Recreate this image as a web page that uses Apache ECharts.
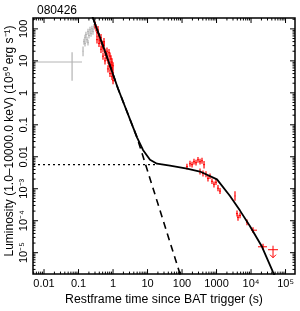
<!DOCTYPE html>
<html><head><meta charset="utf-8">
<script src="https://cdn.jsdelivr.net/npm/echarts@6/dist/echarts.min.js"></script>
<style>html,body{margin:0;padding:0;background:#fff}#c{width:300px;height:311px}</style>
</head><body><div id="c"></div>
<script>
// ---------- text ----------
const titleText = '080426';
const xName = 'Restframe time since BAT trigger (s)';
const yName = 'Luminosity (1.0\u201310000.0 keV) (10\u2075\u2070 erg s\u207B\u00B9)';
// ---------- axes ----------
const xRange = [0.00479, 188000];
const yRange = [2.14e-6, 219];
const xTickValues = [0.01, 0.1, 1, 10, 100, 1000, 1e4, 1e5];
const xTickLabels = ['0.01', '0.1', '1', '10', '100', '1000', '10\u2074', '10\u2075'];
const yTickValues = [1e-5, 1e-4, 1e-3, 0.01, 0.1, 1, 10, 100];
const yTickLabels = ['10\u207B\u2075', '10\u207B\u2074', '10\u207B\u00B3', '0.01', '0.1', '1', '10', '100'];
const minorMultipliers = [2, 3, 4, 5, 6, 7, 8, 9];
const xDecades = [0.001, 0.01, 0.1, 1, 10, 100, 1000, 1e4, 1e5];
const yDecades = [1e-6, 1e-5, 1e-4, 1e-3, 0.01, 0.1, 1, 10, 100];
// ---------- data: [t, L, tLo, tHi, LLo, LHi] ----------
const grayPoints = [
  [0.065, 9.2, 0.003, 0.126, 2.4, 18.6],
  [0.135, 20, 0.130, 0.140, 14, 28],
  [0.144, 40, 0.135, 0.154, 32, 49],
  [0.154, 53, 0.144, 0.164, 43, 66],
  [0.164, 66, 0.154, 0.176, 53, 81],
  [0.176, 46, 0.164, 0.188, 37, 57],
  [0.188, 82, 0.176, 0.201, 66, 101],
  [0.201, 62, 0.188, 0.215, 50, 77],
  [0.215, 94, 0.201, 0.230, 76, 116],
  [0.230, 71, 0.215, 0.245, 57, 88],
  [0.245, 101, 0.230, 0.262, 82, 125],
  [0.262, 82, 0.245, 0.281, 66, 101],
  [0.281, 116, 0.262, 0.300, 94, 143],
  [0.154, 35, 0.144, 0.164, 28, 43],
  [0.188, 37, 0.176, 0.201, 30, 46]
];
const redEarly = [
  [0.300, 134, 0.280, 0.321, 103, 174],
  [0.321, 108, 0.300, 0.343, 83, 140],
  [0.343, 76, 0.321, 0.367, 58, 99],
  [0.366, 94, 0.342, 0.392, 72, 122],
  [0.392, 57, 0.366, 0.419, 44, 74],
  [0.419, 43, 0.392, 0.448, 33, 56],
  [0.448, 53, 0.419, 0.479, 41, 69],
  [0.479, 33, 0.448, 0.512, 25, 43],
  [0.512, 25, 0.479, 0.548, 19, 32],
  [0.547, 30, 0.511, 0.585, 23, 39],
  [0.585, 18.6, 0.547, 0.626, 14.3, 24.2],
  [0.625, 15, 0.584, 0.669, 11.5, 19.5],
  [0.668, 13, 0.624, 0.715, 10, 16.9],
  [0.714, 10.5, 0.667, 0.764, 8.1, 13.7],
  [0.764, 8.6, 0.714, 0.817, 6.6, 11.2],
  [0.817, 6.5, 0.764, 0.874, 5.0, 8.5],
  [0.873, 7.4, 0.816, 0.934, 5.7, 9.6],
  [0.933, 4.9, 0.872, 0.998, 3.8, 6.4],
  [0.933, 3.2, 0.872, 0.998, 2.5, 4.2],
  [1.0, 2.4, 0.935, 1.07, 1.85, 3.1],
  [0.817, 4.0, 0.764, 0.874, 3.1, 5.2],
  [0.714, 5.6, 0.667, 0.764, 4.3, 7.3],
  [0.585, 10, 0.547, 0.626, 7.7, 13],
  [0.512, 14, 0.479, 0.548, 10.8, 18.2],
  [0.448, 23, 0.419, 0.479, 17.7, 30],
  [0.392, 35, 0.366, 0.419, 27, 45.5],
  [0.343, 46, 0.321, 0.367, 35, 60],
  [0.817, 14, 0.764, 0.874, 10.8, 18.2],
  [0.764, 18, 0.714, 0.817, 13.8, 23.4],
  [0.933, 9.2, 0.872, 0.998, 7.1, 12],
  [0.933, 6.0, 0.872, 0.998, 4.6, 7.8],
  [0.873, 11.5, 0.816, 0.934, 8.8, 15],
  [0.668, 20, 0.624, 0.715, 15.4, 26],
  [0.547, 40, 0.511, 0.585, 31, 52],
  [1.0, 4.2, 0.935, 1.07, 3.2, 5.5],
  [1.0, 7.0, 0.935, 1.07, 5.4, 9.1]
];
const redLate = [
  [139, 4.92e-3, 130, 149, 4.0e-3, 6.1e-3],
  [170, 6.07e-3, 159, 182, 4.9e-3, 7.5e-3],
  [195, 5.66e-3, 182, 209, 4.6e-3, 7.0e-3],
  [222, 7.0e-3, 208, 238, 5.7e-3, 8.6e-3],
  [254, 6.5e-3, 237, 272, 5.3e-3, 8.0e-3],
  [290, 8.05e-3, 271, 310, 6.5e-3, 9.9e-3],
  [332, 7.0e-3, 310, 355, 5.7e-3, 8.6e-3],
  [379, 7.5e-3, 354, 405, 6.1e-3, 9.3e-3],
  [434, 5.66e-3, 405, 464, 4.3e-3, 7.4e-3],
  [332, 3.46e-3, 310, 355, 2.8e-3, 4.3e-3],
  [405, 3.0e-3, 379, 434, 2.4e-3, 3.7e-3],
  [494, 2.8e-3, 462, 528, 2.3e-3, 3.5e-3],
  [565, 2.11e-3, 528, 605, 1.7e-3, 2.6e-3],
  [646, 2.43e-3, 604, 691, 2.0e-3, 3.0e-3],
  [738, 1.71e-3, 690, 790, 1.4e-3, 2.1e-3],
  [843, 1.38e-3, 788, 902, 1.1e-3, 1.7e-3],
  [964, 1.59e-3, 901, 1031, 1.3e-3, 2.0e-3],
  [1102, 1.04e-3, 1030, 1179, 8.4e-4, 1.3e-3],
  [1259, 8.45e-4, 1177, 1347, 6.8e-4, 1.05e-3],
  [3428, 5.94e-4, 3320, 3540, 4.2e-4, 8.3e-4],
  [3917, 1.67e-4, 3660, 4190, 1.35e-4, 2.1e-4],
  [4188, 1.27e-4, 3915, 4480, 1.0e-4, 1.55e-4],
  [4786, 1.46e-4, 4470, 5120, 1.2e-4, 1.8e-4],
  [7638, 8.9e-5, 7140, 8170, 7.2e-5, 1.1e-4],
  [11400, 5.06e-5, 10000, 14900, 4.1e-5, 6.2e-5],
  [22230, 1.53e-5, 15920, 29040, 1.24e-5, 1.9e-5]
];
// upper limit: [t, L, tLo, tHi]
const redUpperLimits = [[43350, 1.24e-5, 31050, 60400]];
// ---------- model curves ----------
const solidT = [0.215, 0.262, 0.585, 1.39, 4.95, 7.38, 11.8, 18.8, 44.8, 139, 332, 1030, 2455, 4786, 9330, 20800, 43350, 52840];
const solidL = [385, 219, 19.95, 1.37, 0.0406, 0.0163, 8.05e-3, 6.07e-3, 5.27e-3, 4.28e-3, 3.46e-3, 1.97e-3, 5.94e-4, 2.07e-4, 6.7e-5, 1.53e-5, 2.45e-6, 1.6e-6];
const dashedT = [0.262, 0.585, 1.39, 4.95, 93.3];
const dashedL = [219, 19.95, 1.37, 0.0406, 1.72e-6];
const dottedT = [0.00479, 18.8];
const dottedL = [5.66e-3, 5.66e-3];

const FONT = 'Liberation Sans';
const RED = '#ff0000', GRAY = '#b4b4b4';

function zip(a, b) { return a.map((v, i) => [v, b[i]]); }
function labelFor(values, labels) {
  return function (v) {
    for (let i = 0; i < values.length; i++) {
      if (Math.abs(Math.log10(values[i]) - Math.log10(v)) < 1e-6) return labels[i];
    }
    return '';
  };
}
function errRender(color) {
  return function (params, api) {
    const c = api.coord([api.value(0), api.value(1)]);
    const xl = api.coord([api.value(2), api.value(1)]);
    const xh = api.coord([api.value(3), api.value(1)]);
    const yl = api.coord([api.value(0), api.value(4)]);
    const yh = api.coord([api.value(0), api.value(5)]);
    return { type: 'group', children: [
      { type: 'line', shape: { x1: xl[0], y1: c[1], x2: xh[0], y2: c[1] }, style: { stroke: color, lineWidth: 1 } },
      { type: 'line', shape: { x1: c[0], y1: yl[1], x2: c[0], y2: yh[1] }, style: { stroke: color, lineWidth: 1.2 } }
    ] };
  };
}
function ulRender(params, api) {
  const c = api.coord([api.value(0), api.value(1)]);
  const xl = api.coord([api.value(2), api.value(1)]);
  const xh = api.coord([api.value(3), api.value(1)]);
  const len = 8, ah = 3;
  return { type: 'group', children: [
    { type: 'line', shape: { x1: xl[0], y1: c[1], x2: xh[0], y2: c[1] }, style: { stroke: RED, lineWidth: 1 } },
    { type: 'line', shape: { x1: c[0], y1: c[1] - 4, x2: c[0], y2: c[1] + len }, style: { stroke: RED, lineWidth: 1 } },
    { type: 'polyline', shape: { points: [[c[0] - ah, c[1] + len - ah], [c[0], c[1] + len], [c[0] + ah, c[1] + len - ah]] }, style: { stroke: RED, lineWidth: 1, fill: null } }
  ] };
}
// tick marks (major + minor) on all four sides
const xMajor = xTickValues.map(v => [v, 1, 5]);
const yMajor = yTickValues.map(v => [1, v, 5]);
const xMinor = [], yMinor = [];
xDecades.forEach(d => minorMultipliers.forEach(m => xMinor.push([d * m, 1, 2.5])));
yDecades.forEach(d => minorMultipliers.forEach(m => yMinor.push([1, d * m, 2.5])));
function xTickRender(params, api) {
  const cs = params.coordSys;
  const p = api.coord([api.value(0), 1])[0];
  const L = api.value(2);
  if (p < cs.x || p > cs.x + cs.width) return { type: 'group', children: [] };
  return { type: 'group', children: [
    { type: 'line', shape: { x1: p, y1: cs.y + cs.height, x2: p, y2: cs.y + cs.height - L }, style: { stroke: '#000', lineWidth: 1 } },
    { type: 'line', shape: { x1: p, y1: cs.y, x2: p, y2: cs.y + L }, style: { stroke: '#000', lineWidth: 1 } }
  ] };
}
function yTickRender(params, api) {
  const cs = params.coordSys;
  const p = api.coord([1, api.value(1)])[1];
  const L = api.value(2);
  if (p < cs.y || p > cs.y + cs.height) return { type: 'group', children: [] };
  return { type: 'group', children: [
    { type: 'line', shape: { x1: cs.x, y1: p, x2: cs.x + L, y2: p }, style: { stroke: '#000', lineWidth: 1 } },
    { type: 'line', shape: { x1: cs.x + cs.width, y1: p, x2: cs.x + cs.width - L, y2: p }, style: { stroke: '#000', lineWidth: 1 } }
  ] };
}

const chart = echarts.init(document.getElementById('c'), null, { renderer: 'canvas' });
chart.setOption({
  animation: false,
  backgroundColor: '#fff',
  title: { text: titleText, left: 32, top: 0, textStyle: { fontFamily: FONT, fontSize: 12, fontWeight: 'normal', color: '#000' } },
  grid: { left: 33, right: 5, top: 18, bottom: 31, show: true, borderColor: '#000', borderWidth: 1.5, backgroundColor: 'transparent' },
  xAxis: {
    type: 'log', min: xRange[0], max: xRange[1], logBase: 10,
    axisLine: { show: false }, axisTick: { show: false }, splitLine: { show: false },
    axisLabel: { formatter: labelFor(xTickValues, xTickLabels), fontFamily: FONT, fontSize: 11, color: '#000', margin: 4, showMinLabel: true, showMaxLabel: true },
    name: xName, nameLocation: 'middle', nameGap: 19,
    nameTextStyle: { fontFamily: FONT, fontSize: 12.3, color: '#000' }
  },
  yAxis: {
    type: 'log', min: yRange[0], max: yRange[1], logBase: 10,
    axisLine: { show: false }, axisTick: { show: false }, splitLine: { show: false },
    axisLabel: { formatter: labelFor(yTickValues, yTickLabels), rotate: 90, fontFamily: FONT, fontSize: 11, color: '#000', margin: 4 }
  },
  graphic: [{
    type: 'text', x: 10, y: 141, rotation: Math.PI / 2,
    style: { text: yName, fontFamily: FONT, fontSize: 12, fill: '#000', align: 'center', verticalAlign: 'middle' }
  }],
  series: [
    { type: 'custom', renderItem: xTickRender, data: xMajor.concat(xMinor), clip: false, silent: true, z: 5 },
    { type: 'custom', renderItem: yTickRender, data: yMajor.concat(yMinor), clip: false, silent: true, z: 5 },
    { type: 'custom', renderItem: errRender(GRAY), data: grayPoints, clip: true, z: 2 },
    { type: 'custom', renderItem: errRender(RED), data: redEarly, clip: true, z: 2 },
    { type: 'custom', renderItem: errRender(RED), data: redLate, clip: true, z: 2 },
    { type: 'custom', renderItem: ulRender, data: redUpperLimits, clip: true, z: 2 },
    { type: 'line', data: zip(dottedT, dottedL), showSymbol: false, lineStyle: { color: '#000', width: 1.3, type: [2, 3] }, clip: true, z: 3 },
    { type: 'line', data: zip(dashedT, dashedL), showSymbol: false, lineStyle: { color: '#000', width: 1.6, type: [7, 5] }, clip: true, z: 3 },
    { type: 'line', data: zip(solidT, solidL), showSymbol: false, lineStyle: { color: '#000', width: 1.8 }, clip: true, z: 4 }
  ]
});
</script></body></html>
